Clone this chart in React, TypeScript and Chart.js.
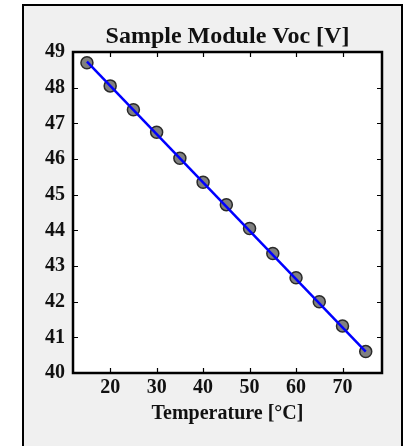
import React, { useEffect, useRef } from "react";
import { Chart, registerables } from "chart.js";

Chart.register(...registerables);

const temperatures = [15, 20, 25, 30, 35, 40, 45, 50, 55, 60, 65, 70, 75];
const vocMeasured = [48.7, 48.05, 47.38, 46.75, 46.02, 45.35, 44.72, 44.05, 43.35, 42.67, 42.0, 41.32, 40.6];
const fitX = [15, 75];
const fitY = [48.73, 40.6];
const xTicks = [20, 30, 40, 50, 60, 70];
const yTicks = [40, 41, 42, 43, 44, 45, 46, 47, 48, 49];
const titleText = "Sample Module Voc [V]";
const xTitle = "Temperature [°C]";

const FONT = "'Liberation Serif', 'Times New Roman', serif";

const framePlugin = {
  id: "framePlugin",
  beforeDraw(chart: any) {
    const ctx = chart.ctx;
    ctx.save();
    ctx.fillStyle = "#ffffff";
    ctx.fillRect(0, 0, chart.width, chart.height);
    ctx.fillStyle = "#f0f0f0";
    ctx.fillRect(23, 5, 379, chart.height);
    ctx.strokeStyle = "#000";
    ctx.lineWidth = 2;
    ctx.strokeRect(23, 5, 379, chart.height + 10);
    const a = chart.chartArea;
    ctx.fillStyle = "#ffffff";
    ctx.fillRect(a.left, a.top, a.right - a.left, a.bottom - a.top);
    // chart title, centred over the plot area
    ctx.fillStyle = "#111";
    ctx.font = "bold 24px " + FONT;
    ctx.textAlign = "center";
    ctx.textBaseline = "middle";
    ctx.fillText(titleText, (a.left + a.right) / 2, 36.5);
    ctx.restore();
  },
  afterDatasetsDraw(chart: any) {
    const ctx = chart.ctx;
    const a = chart.chartArea;
    const xs = chart.scales.x;
    const ys = chart.scales.y;
    ctx.save();
    ctx.strokeStyle = "#000";
    ctx.lineWidth = 1.2;
    const L = 5;
    ctx.beginPath();
    xTicks.forEach((v) => {
      const px = Math.round(xs.getPixelForValue(v)) + 0.5;
      ctx.moveTo(px, a.bottom);
      ctx.lineTo(px, a.bottom - L);
      ctx.moveTo(px, a.top);
      ctx.lineTo(px, a.top + L);
    });
    yTicks.forEach((v) => {
      const py = Math.round(ys.getPixelForValue(v)) + 0.5;
      ctx.moveTo(a.left, py);
      ctx.lineTo(a.left + L, py);
      ctx.moveTo(a.right, py);
      ctx.lineTo(a.right - L, py);
    });
    ctx.stroke();
    ctx.lineWidth = 2.5;
    ctx.strokeRect(a.left, a.top, a.right - a.left, a.bottom - a.top);
    ctx.restore();
  },
};

export default function App() {
  const ref = useRef<HTMLCanvasElement | null>(null);
  useEffect(() => {
    document.body.style.margin = "0";
    const canvas = ref.current!;
    const chart = new Chart(canvas, {
      type: "scatter",
      data: {
        datasets: [
          {
            label: "Voc measured",
            data: temperatures.map((t, i) => ({ x: t, y: vocMeasured[i] })),
            backgroundColor: "rgba(85,85,85,0.75)",
            borderColor: "#2a2a2a",
            borderWidth: 1.5,
            pointRadius: 6,
            order: 2,
          },
          {
            label: "Fit",
            type: "line",
            data: fitX.map((t, i) => ({ x: t, y: fitY[i] })),
            borderColor: "#0000ff",
            borderWidth: 2.5,
            pointRadius: 0,
            fill: false,
            order: 1,
          } as any,
        ],
      },
      options: {
        animation: false,
        responsive: false,
        layout: { padding: { left: 0, right: 32, top: 52, bottom: 0 } },
        plugins: {
          legend: { display: false },
          tooltip: { enabled: false },
          title: { display: false },
        },
        scales: {
          x: {
            type: "linear",
            min: 12,
            max: 78.5,
            afterFit: (s: any) => {
              s.height = 73;
            },
            grid: { display: false, drawTicks: false },
            border: { display: false },
            afterBuildTicks: (s: any) => {
              s.ticks = xTicks.map((v) => ({ value: v }));
            },
            ticks: {
              includeBounds: false,
              color: "#111",
              padding: 3,
              font: { family: FONT, size: 20, weight: "bold" },
            },
            title: {
              display: true,
              text: xTitle,
              color: "#111",
              font: { family: FONT, size: 20, weight: "bold" },
              padding: { top: 2, bottom: 20 },
            },
          },
          y: {
            type: "linear",
            min: 40,
            max: 49,
            afterFit: (s: any) => {
              s.width = 73;
            },
            grid: { display: false, drawTicks: false },
            border: { display: false },
            afterBuildTicks: (s: any) => {
              s.ticks = yTicks.map((v) => ({ value: v }));
            },
            ticks: {
              color: "#111",
              padding: 8,
              font: { family: FONT, size: 20, weight: "bold" },
            },
          },
        },
      },
      plugins: [framePlugin],
    });
    return () => chart.destroy();
  }, []);
  return <canvas ref={ref} width={414} height={446} style={{ display: "block" }} />;
}
